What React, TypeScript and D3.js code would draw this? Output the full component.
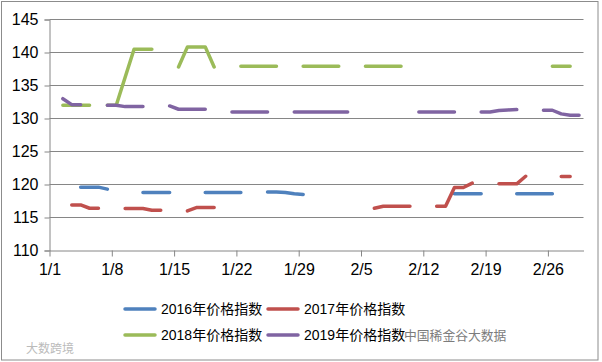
import React, { useEffect, useRef } from 'react';
import * as d3 from 'd3';

// days 1/1 .. 3/1, one slot per day (60 slots)
const dayCount = 60;
const tickDays = [0, 7, 14, 21, 28, 35, 42, 49, 56];
const tickLabels = ['1/1', '1/8', '1/15', '1/22', '1/29', '2/5', '2/12', '2/19', '2/26'];
const yTicks = [110, 115, 120, 125, 130, 135, 140, 145];

const seriesNames = ['2016年价格指数', '2017年价格指数', '2018年价格指数', '2019年价格指数'];
const colors = ['#4F81BD', '#C0504D', '#9BBB59', '#8064A2'];

const _ = null;
const s2016 = [
  _, _, _, 119.6, 119.6, 119.6, 119.3, _, _, _,
  118.8, 118.8, 118.8, 118.8, _, _, _, 118.8, 118.8, 118.8,
  118.8, 118.8, _, _, 118.85, 118.85, 118.8, 118.6, 118.5, _,
  _, _, _, _, _, _, _, _, _, _,
  _, _, _, _, _, 118.6, 118.6, 118.6, 118.6, _,
  _, _, 118.6, 118.6, 118.6, 118.6, 118.6, _, _, _,
];
const s2017 = [
  _, _, 116.9, 116.9, 116.4, 116.4, _, _, 116.35, 116.35,
  116.35, 116.1, 116.1, _, _, 116.0, 116.5, 116.5, 116.5, _,
  _, _, _, _, _, _, _, _, _, _,
  _, _, _, _, _, _, 116.4, 116.7, 116.7, 116.7,
  116.7, _, _, 116.7, 116.7, 119.55, 119.55, 120.2, _, _,
  120.1, 120.1, 120.1, 121.25, _, _, _, 121.2, 121.2, _,
];
const s2018 = [
  _, 132.0, 132.0, 132.0, 132.0, _, 132.0, 132.0, 136.25, 140.5,
  140.5, 140.5, _, _, 137.8, 140.85, 140.85, 140.85, 137.8, _,
  _, 137.9, 137.9, 137.9, 137.9, 137.9, _, _, 137.9, 137.9,
  137.9, 137.9, 137.9, _, _, 137.9, 137.9, 137.9, 137.9, 137.9,
  _, _, _, _, _, _, _, _, _, _,
  _, _, _, _, _, _, 137.9, 137.9, 137.9, _,
];
const s2019 = [
  _, 133.0, 132.1, 132.1, _, _, 132.0, 132.0, 131.8, 131.8,
  131.8, _, _, 131.9, 131.4, 131.4, 131.4, 131.4, _, _,
  131.0, 131.0, 131.0, 131.0, 131.0, _, _, 131.0, 131.0, 131.0,
  131.0, 131.0, 131.0, 131.0, _, _, _, _, _, _,
  _, 131.0, 131.0, 131.0, 131.0, 131.0, _, _, 131.0, 131.0,
  131.2, 131.3, 131.35, _, _, 131.25, 131.25, 130.7, 130.5, 130.5,
];
const seriesValues = [s2016, s2017, s2018, s2019];

const W = 602;
const H = 362;
const font = '"Liberation Sans", Arial, "Noto Sans CJK SC", sans-serif';

const App = () => {
  const ref = useRef<SVGSVGElement>(null);

  useEffect(() => {
    const svg = d3.select(ref.current);
    svg.selectAll('*').remove();

    const x = d3.scaleLinear().domain([0, dayCount]).range([49.5, 583.5]);
    const y = d3.scaleLinear().domain([110, 145]).range([250.5, 19.5]);

    // outer frame
    svg.append('rect')
      .attr('x', 1.5).attr('y', 1.5)
      .attr('width', 596.5).attr('height', 358.5)
      .attr('fill', '#fff').attr('stroke', '#8c8c8c');

    // gridlines
    svg.append('g')
      .selectAll('line')
      .data(yTicks.slice(1))
      .enter()
      .append('line')
      .attr('x1', x(0)).attr('x2', x(dayCount))
      .attr('y1', (d) => y(d)).attr('y2', (d) => y(d))
      .attr('stroke', '#868686');

    // y axis
    const yAxis = d3.axisLeft(y).tickValues(yTicks).tickSize(5).tickPadding(6).tickFormat(d3.format('d'));
    const ya = svg.append('g').attr('transform', `translate(${x(0)},0)`).call(yAxis);
    ya.select('.domain').attr('stroke', '#868686');
    ya.selectAll('.tick line').attr('stroke', '#868686');
    ya.selectAll('text').attr('font-family', font).attr('font-size', 16).attr('fill', '#000');

    // x axis
    const xAxis = d3.axisBottom(x)
      .tickValues(tickDays)
      .tickSize(6)
      .tickSizeOuter(0)
      .tickPadding(7)
      .tickFormat((d, i) => tickLabels[i]);
    const xa = svg.append('g').attr('transform', `translate(0,${y(110)})`).call(xAxis);
    xa.select('.domain').attr('stroke', '#868686');
    xa.selectAll('.tick line').attr('stroke', '#868686');
    xa.selectAll('text').attr('font-family', font).attr('font-size', 16).attr('fill', '#000');

    // series lines, gaps where no data
    const line = d3.line<number | null>()
      .defined((d) => d != null)
      .x((d, i) => x(i + 0.5))
      .y((d) => y(d as number));

    seriesValues.forEach((vals, k) => {
      svg.append('path')
        .datum(vals)
        .attr('d', line)
        .attr('fill', 'none')
        .attr('stroke', colors[k])
        .attr('stroke-width', 3.5)
        .attr('stroke-linecap', 'round')
        .attr('stroke-linejoin', 'round');
    });

    // legend
    const legendPos = [
      [125, 309], [268, 309], [125, 335], [268, 335],
    ];
    const lg = svg.append('g');
    seriesNames.forEach((name, k) => {
      const [lx, ly] = legendPos[k];
      lg.append('line')
        .attr('x1', lx).attr('x2', lx + 30)
        .attr('y1', ly).attr('y2', ly)
        .attr('stroke', colors[k])
        .attr('stroke-width', 3.5)
        .attr('stroke-linecap', 'round');
      lg.append('text')
        .attr('x', lx + 36).attr('y', ly + 5)
        .attr('font-family', font)
        .attr('font-size', 14)
        .attr('fill', '#000')
        .text(name);
    });

    // watermarks
    svg.append('text')
      .attr('x', 404).attr('y', 340)
      .attr('font-family', '"Noto Sans CJK SC", sans-serif')
      .attr('font-size', 12.8)
      .attr('fill', '#666')
      .attr('opacity', 0.85)
      .text('中国稀金谷大数据');
    svg.append('text')
      .attr('x', 26).attr('y', 353)
      .attr('font-family', '"Noto Sans CJK SC", sans-serif')
      .attr('font-size', 12)
      .attr('fill', '#bbb')
      .text('大数跨境');
  }, []);

  return (
    <svg
      ref={ref}
      width={W}
      height={H}
      style={{ position: 'absolute', left: 0, top: 0, display: 'block', background: '#fff' }}
    />
  );
};

export default App;
